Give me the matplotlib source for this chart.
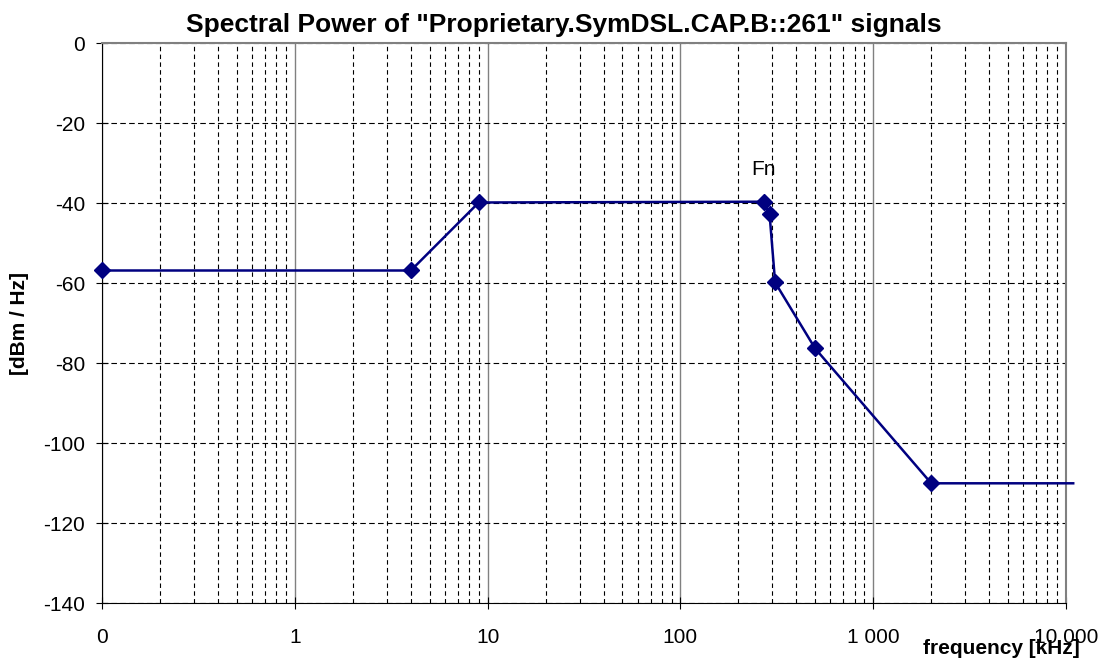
import matplotlib
matplotlib.use("Agg")
import matplotlib.pyplot as plt
from matplotlib.ticker import FixedLocator, FixedFormatter, LogLocator, NullFormatter

plt.rcParams['font.family'] = ['Liberation Sans', 'DejaVu Sans']
plt.rcParams['axes.unicode_minus'] = False

# breakpoints of the PSD mask (kHz, dBm/Hz)
freq_khz = [0.1, 4, 9, 270, 290, 310, 500, 2000, 10900]
power_dbm = [-56.8, -56.8, -39.8, -39.6, -42.7, -59.8, -76.3, -110.0, -110.0]
fn_index = 3

x_ticks = [0.1, 1, 10, 100, 1000, 10000]
x_tick_labels = ["0", "1", "10", "100", "1 000", "10 000"]
y_ticks = [0, -20, -40, -60, -80, -100, -120, -140]

fig = plt.figure(figsize=(11.03, 6.64), dpi=100)
ax = fig.add_axes([102 / 1103, 1 - 603.3 / 664, 964 / 1103, 560 / 664])

ax.set_xscale('log')
ax.set_xlim(0.1, 10000)
ax.set_ylim(-140, 0)

# grid: solid grey decades, dashed minor verticals, dashed horizontals
ax.xaxis.set_major_locator(FixedLocator(x_ticks))
ax.xaxis.set_major_formatter(FixedFormatter(x_tick_labels))
ax.xaxis.set_minor_locator(LogLocator(base=10, subs=range(2, 10)))
ax.xaxis.set_minor_formatter(NullFormatter())
ax.set_yticks(y_ticks)

ax.grid(True, which='major', axis='x', color='#808080', linestyle='-', linewidth=1.0)
ax.grid(True, which='minor', axis='x', color='black', linestyle=(0, (4, 3)), linewidth=0.8)
ax.grid(True, which='major', axis='y', color='black', linestyle=(0, (5, 3)), linewidth=0.8)
ax.tick_params(which='minor', length=0)
ax.tick_params(which='major', direction='inout', length=8, width=0.8, labelsize=15)
ax.tick_params(axis='y', pad=8)
ax.tick_params(axis='x', pad=14)

ax.spines['top'].set_color('#808080')
ax.spines['right'].set_color('#808080')
ax.spines['top'].set_linewidth(1.5)
ax.spines['right'].set_linewidth(1.5)

ax.plot(freq_khz, power_dbm, color='#000080', linewidth=1.8, marker='D', markersize=8,
        markevery=list(range(len(freq_khz) - 1)), clip_on=False, zorder=5)

ax.annotate("Fn", xy=(freq_khz[fn_index], power_dbm[fn_index]), xytext=(0, 23),
            textcoords='offset points', ha='center', va='center', fontsize=15)

fig.text(0.511, 1 - 25 / 664, 'Spectral Power of "Proprietary.SymDSL.CAP.B::261" signals',
         ha='center', va='center', fontsize=19, fontweight='bold')
fig.text(20 / 1103, 1 - 323 / 664, "[dBm / Hz]", rotation=90, ha='center', va='center',
         fontsize=15, fontweight='bold')
fig.text(1080 / 1103, 1 - 648 / 664, "frequency [kHz]", ha='right', va='center',
         fontsize=15, fontweight='bold')

fig.savefig("out.png", dpi=100)
